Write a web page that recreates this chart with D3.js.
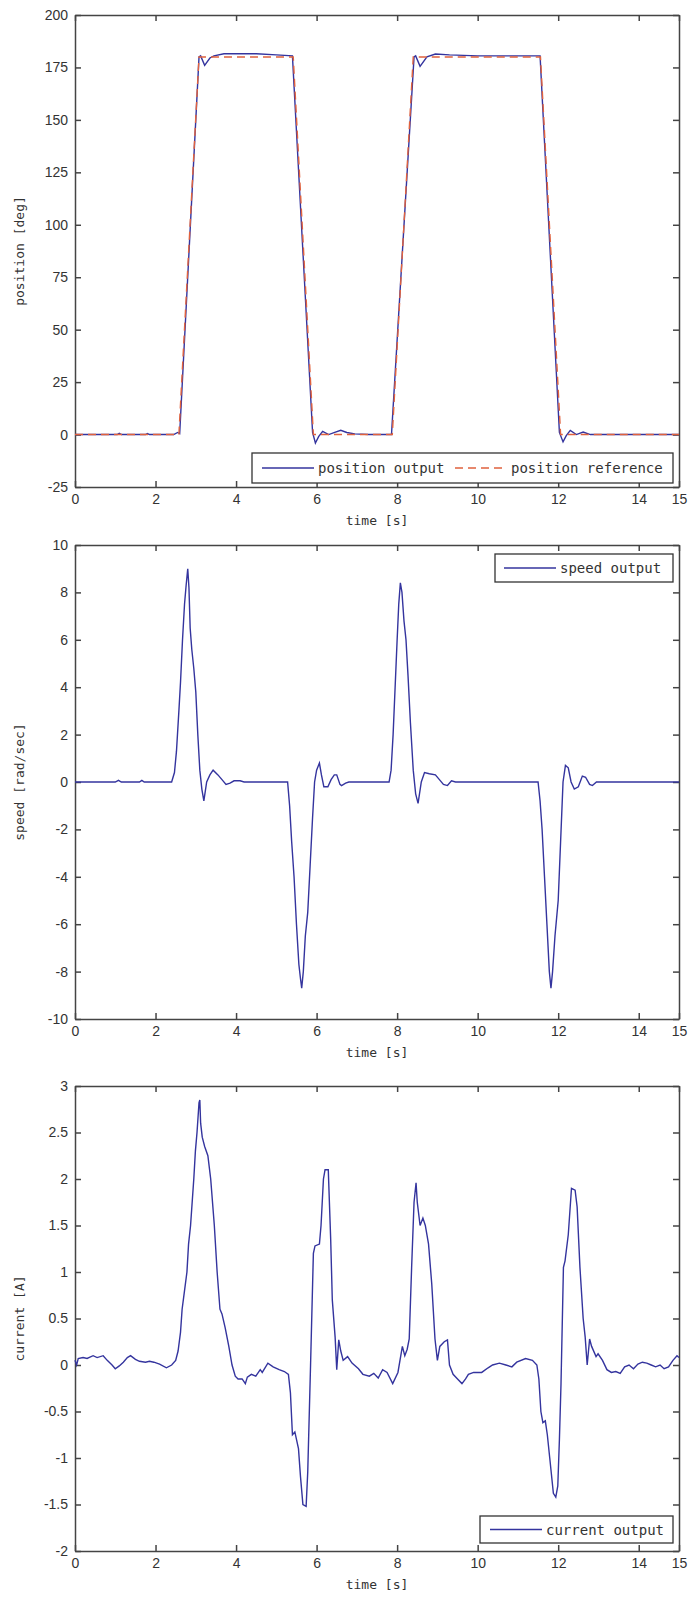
<html>
<head>
<script src="https://d3js.org/d3.v7.min.js"></script>
<style>
  body { margin: 0; background: #fff; }
  .tick text { font-family: "Liberation Sans", Arial, sans-serif; font-size: 14px; fill: #333; }
  .lbl { font-family: "DejaVu Sans Mono", monospace; font-size: 13px; fill: #333; }
</style>
</head>
<body>
<svg id="chart" width="688" height="1602"></svg>
<script>
// x tick labels shared by all three panels
const timeTicks = [0, 2, 4, 6, 8, 10, 12, 14, 15];

// position reference (trapezoid corners) [s], [deg]
const posRefT = [0, 2.58, 3.08, 5.42, 5.92, 7.88, 8.40, 11.56, 12.06, 15];
const posRefV = [0, 0, 180, 180, 0, 0, 180, 180, 0, 0];

// position output
const posOutT = [0, 1.05, 1.1, 1.15, 1.75, 1.8, 1.85, 2.45, 2.55, 2.6, 3.08, 3.12, 3.22, 3.35, 3.45, 3.7, 4.5, 5.0, 5.4,
  5.9, 5.97, 6.05, 6.15, 6.3, 6.45, 6.6, 6.75, 6.95, 7.3, 7.86,
  8.42, 8.46, 8.57, 8.74, 8.95, 9.3, 10.0, 11.55,
  12.03, 12.12, 12.2, 12.3, 12.45, 12.62, 12.8, 13.1, 15];
const posOutV = [0, 0, 0.6, 0, 0, 0.5, 0, 0, 1, 0.5, 180, 180.5, 176, 179.5, 180.5, 181.5, 181.5, 181, 180.5,
  1, -4, -1, 1.5, 0, 1, 2, 1, 0.3, 0, 0,
  180, 180.5, 175.5, 180, 181.4, 181, 180.5, 180.5,
  1, -3.5, -0.5, 2, 0, 1.2, 0, 0, 0];

// speed output [s], [rad/sec]
const speedT = [0, 1.0, 1.08, 1.15, 1.6, 1.66, 1.72, 2.4, 2.47, 2.52, 2.58, 2.62, 2.67, 2.72, 2.76, 2.8, 2.83, 2.86, 2.9, 2.95,
  3.0, 3.05, 3.1, 3.15, 3.2, 3.27, 3.35, 3.43, 3.55, 3.65, 3.75, 3.85, 3.95, 4.1, 4.2,
  5.28, 5.33, 5.38, 5.44, 5.5, 5.56, 5.6, 5.63, 5.67, 5.72, 5.78, 5.84, 5.9, 5.95, 6.0, 6.07, 6.12, 6.18, 6.28,
  6.36, 6.44, 6.5, 6.58, 6.62, 6.72, 6.8,
  7.8, 7.85, 7.9, 7.95, 8.0, 8.04, 8.08, 8.12, 8.17, 8.22, 8.27, 8.33, 8.4, 8.46, 8.52, 8.6, 8.68, 8.8, 8.95,
  9.05, 9.15, 9.25, 9.35, 9.45,
  11.5, 11.55, 11.6, 11.66, 11.72, 11.78, 11.82, 11.86, 11.92, 12.0, 12.06, 12.12, 12.18, 12.25, 12.32, 12.4,
  12.5, 12.6, 12.68, 12.78, 12.85, 12.95, 15];
const speedV = [0, 0, 0.07, 0, 0, 0.07, 0, 0, 0.4, 1.3, 3, 4.2, 6, 7.5, 8.3, 9.0, 8.2, 6.5, 5.6, 4.8,
  3.8, 2, 0.5, -0.3, -0.8, 0, 0.3, 0.5, 0.3, 0.1, -0.1, -0.05, 0.05, 0.05, 0,
  0, -1, -2.5, -4, -6, -7.7, -8.3, -8.7, -8, -6.5, -5.5, -3.5, -1.5, 0, 0.5, 0.8, 0.3, -0.2, -0.2,
  0.1, 0.3, 0.3, -0.1, -0.15, -0.05, 0,
  0, 0.5, 2, 4, 6, 7.5, 8.4, 8, 6.8, 6, 4.5, 2.5, 0.5, -0.5, -0.9, 0, 0.4, 0.35, 0.3,
  0.1, -0.1, -0.15, 0.05, 0,
  0, -0.8, -2, -4, -6, -8, -8.7, -8, -6.5, -5, -2.5, 0, 0.7, 0.6, 0, -0.3,
  -0.2, 0.25, 0.2, -0.1, -0.15, 0, 0];

// current output [s], [A]
const currentT = [0, 0.04, 0.08, 0.2, 0.3, 0.45, 0.55, 0.7, 0.8, 0.92, 1.0, 1.1, 1.2, 1.3, 1.38, 1.5, 1.6, 1.75, 1.85, 1.96,
  2.1, 2.27, 2.4, 2.5, 2.56, 2.62, 2.66, 2.72, 2.78, 2.82, 2.87, 2.95, 2.99, 3.03, 3.08, 3.1, 3.12, 3.16, 3.22, 3.3,
  3.37, 3.46, 3.53, 3.6, 3.65, 3.73, 3.82, 3.9, 3.98, 4.05, 4.15, 4.23, 4.28, 4.38, 4.49, 4.6, 4.65, 4.79, 4.92, 5.07,
  5.2, 5.3, 5.35, 5.4, 5.46, 5.5, 5.55, 5.6, 5.66, 5.74, 5.78, 5.85, 5.92, 5.96, 6.07, 6.11, 6.17, 6.21, 6.29, 6.35,
  6.39, 6.46, 6.5, 6.55, 6.6, 6.66, 6.77, 6.88, 7.04, 7.15, 7.31, 7.42, 7.53, 7.64, 7.75, 7.89, 8.02, 8.13, 8.19, 8.25,
  8.3, 8.36, 8.42, 8.47, 8.5, 8.57, 8.64, 8.7, 8.78, 8.86, 8.94, 9.0, 9.06, 9.17, 9.25, 9.3, 9.39, 9.5, 9.61, 9.7,
  9.77, 9.9, 10.1, 10.26, 10.37, 10.54, 10.7, 10.85, 10.97, 11.19, 11.36, 11.47, 11.52, 11.57, 11.62, 11.68, 11.73, 11.79, 11.88, 11.94,
  11.99, 12.03, 12.07, 12.13, 12.17, 12.25, 12.33, 12.42, 12.47, 12.54, 12.62, 12.67, 12.72, 12.78, 12.83, 12.94, 12.99, 13.1, 13.21, 13.32,
  13.43, 13.54, 13.65, 13.76, 13.87, 13.98, 14.09, 14.2, 14.31, 14.42, 14.53, 14.63, 14.74, 14.85, 14.95, 15];
const currentV = [0.05, 0.0, 0.07, 0.08, 0.07, 0.1, 0.08, 0.1, 0.05, 0.0, -0.04, -0.01, 0.03, 0.08, 0.1, 0.06, 0.04, 0.03, 0.04, 0.03,
  0.01, -0.03, 0.0, 0.05, 0.15, 0.35, 0.6, 0.8, 1.0, 1.3, 1.5, 2.0, 2.3, 2.5, 2.82, 2.85, 2.6, 2.45, 2.35, 2.25,
  2.0, 1.5, 1.0, 0.6, 0.55, 0.4, 0.2, 0.0, -0.12, -0.15, -0.15, -0.2, -0.13, -0.1, -0.12, -0.05, -0.08, 0.02, -0.02, -0.05,
  -0.07, -0.1, -0.3, -0.75, -0.72, -0.8, -0.9, -1.2, -1.5, -1.52, -1.15, 0, 1.2, 1.28, 1.3, 1.5, 2.0, 2.1, 2.1, 1.35,
  0.7, 0.3, -0.05, 0.27, 0.15, 0.05, 0.09, 0.02, -0.04, -0.1, -0.12, -0.09, -0.14, -0.05, -0.08, -0.2, -0.08, 0.2, 0.1, 0.17,
  0.28, 1.05, 1.75, 1.96, 1.75, 1.5, 1.58, 1.5, 1.3, 0.87, 0.28, 0.05, 0.2, 0.25, 0.27, 0.0, -0.1, -0.15, -0.2, -0.15,
  -0.1, -0.08, -0.08, -0.03, 0.0, 0.02, 0.0, -0.02, 0.03, 0.07, 0.05, 0.0, -0.15, -0.5, -0.62, -0.6, -0.75, -1.0, -1.38, -1.42,
  -1.3, -0.8, -0.2, 1.05, 1.12, 1.4, 1.9, 1.88, 1.7, 1.05, 0.5, 0.3, 0.0, 0.28, 0.2, 0.09, 0.12, 0.05, -0.05, -0.08,
  -0.07, -0.09, -0.02, 0.0, -0.04, 0.01, 0.03, 0.02, 0.0, -0.02, 0.0, -0.04, -0.02, 0.05, 0.1, 0.08];

const svg = d3.select("svg#chart");
const left = 75, right = 679;
const blue = "#34349e", red = "#e0623e", axisCol = "#444";

const x = d3.scaleLinear().domain([0, 15]).range([left, right]);

function zip(ts, vs) { return ts.map((t, i) => [t, vs[i]]); }

function panel(top, bottom, domain, yTicks, yLabel) {
  const y = d3.scaleLinear().domain(domain).range([bottom, top]);
  const g = svg.append("g");
  const fmt = d => String(d);

  g.append("g").attr("transform", `translate(0,${bottom})`)
    .call(d3.axisBottom(x).tickValues(timeTicks).tickSize(-6).tickSizeOuter(0).tickPadding(7).tickFormat(fmt));
  g.append("g").attr("transform", `translate(0,${top})`)
    .call(d3.axisTop(x).tickValues(timeTicks).tickSize(-6).tickSizeOuter(0).tickFormat(""));
  g.append("g").attr("transform", `translate(${left},0)`)
    .call(d3.axisLeft(y).tickValues(yTicks).tickSize(-6).tickSizeOuter(0).tickPadding(7).tickFormat(fmt));
  g.append("g").attr("transform", `translate(${right},0)`)
    .call(d3.axisRight(y).tickValues(yTicks).tickSize(-6).tickSizeOuter(0).tickFormat(""));
  g.selectAll(".domain, .tick line").attr("stroke", axisCol).attr("stroke-width", 1.5);

  g.append("text").attr("class", "lbl")
    .attr("x", (left + right) / 2).attr("y", bottom + 38)
    .attr("text-anchor", "middle").text("time [s]");
  g.append("text").attr("class", "lbl")
    .attr("transform", `translate(24,${(top + bottom) / 2}) rotate(-90)`)
    .attr("text-anchor", "middle").text(yLabel);
  return y;
}

function drawLine(y, ts, vs, color, dash) {
  const line = d3.line().x(d => x(d[0])).y(d => y(d[1]));
  svg.append("path").datum(zip(ts, vs))
    .attr("d", line).attr("fill", "none")
    .attr("stroke", color).attr("stroke-width", 1.4)
    .attr("stroke-dasharray", dash || null);
}

function legend(x0, y0, x1, y1, items) {
  svg.append("rect").attr("x", x0).attr("y", y0).attr("width", x1 - x0).attr("height", y1 - y0)
    .attr("fill", "#fff").attr("stroke", "#333").attr("stroke-width", 1.3);
  const cy = (y0 + y1) / 2;
  items.forEach(it => {
    svg.append("line").attr("x1", it.lx).attr("x2", it.lx + 52).attr("y1", cy).attr("y2", cy)
      .attr("stroke", it.color).attr("stroke-width", 1.4).attr("stroke-dasharray", it.dash || null);
    svg.append("text").attr("class", "lbl").style("font-size", "14px")
      .attr("x", it.lx + 56).attr("y", cy + 5).text(it.text);
  });
}

// position
const yPos = panel(15, 487, [-25, 200], d3.range(-25, 201, 25), "position [deg]");
drawLine(yPos, posOutT, posOutV, blue);
drawLine(yPos, posRefT, posRefV, red, "8,5");
legend(252, 453, 673, 483, [
  { lx: 262, color: blue, text: "position output" },
  { lx: 455, color: red, dash: "8,5", text: "position reference" }
]);

// speed
const ySpeed = panel(545, 1019, [-10, 10], d3.range(-10, 11, 2), "speed [rad/sec]");
drawLine(ySpeed, speedT, speedV, blue);
legend(495, 554, 673, 582, [{ lx: 504, color: blue, text: "speed output" }]);

// current
const yCur = panel(1086, 1551, [-2, 3], d3.range(-2, 3.01, 0.5), "current [A]");
drawLine(yCur, currentT, currentV, blue);
legend(480, 1516, 673, 1543, [{ lx: 490, color: blue, text: "current output" }]);
</script>
</body>
</html>
